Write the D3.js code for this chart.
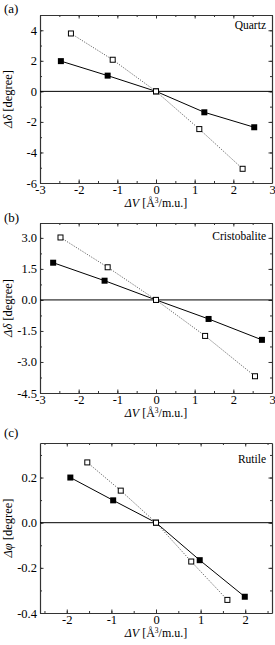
<!DOCTYPE html>
<html lang="en">
<head>
<meta charset="UTF-8">
<title>Volume dependence of tilt angles</title>
<script src="https://d3js.org/d3.v7.min.js"></script>
<style>
    body { margin: 0; background: #fff; }
    svg { display: block; font-family: "Liberation Serif", "DejaVu Serif", serif; }
    .axis path, .axis line { stroke: #333; }
    .axis text { font-size: 12.5px; fill: #000; font-family: "Liberation Serif", serif; }
    .solid { fill: none; stroke: #000; stroke-width: 1; }
    .dotted { fill: none; stroke: #555; stroke-width: 0.9; stroke-dasharray: 1.2,1.4; }
</style>
</head>
<body>
<svg width="275" height="645"></svg>
<script>
// ---- data ----
const panelLetters = ["(a)", "(b)", "(c)"];
const panelNames = ["Quartz", "Cristobalite", "Rutile"];

// quartz
const quartzFilledX = [-2.46, -1.25, 0, 1.25, 2.54];
const quartzFilledY = [1.98, 1.03, 0, -1.37, -2.35];
const quartzOpenX = [-2.2, -1.12, 0, 1.12, 2.24];
const quartzOpenY = [3.79, 2.07, 0, -2.47, -5.07];

// cristobalite
const cristFilledX = [-2.66, -1.33, 0, 1.36, 2.74];
const cristFilledY = [1.8, 0.93, 0, -0.92, -1.93];
const cristOpenX = [-2.47, -1.25, 0, 1.27, 2.56];
const cristOpenY = [3.02, 1.58, 0, -1.74, -3.69];

// rutile
const rutileFilledX = [-1.92, -0.96, 0, 0.98, 1.99];
const rutileFilledY = [0.2, 0.099, 0, -0.166, -0.328];
const rutileOpenX = [-1.54, -0.79, 0, 0.79, 1.6];
const rutileOpenY = [0.267, 0.142, 0, -0.172, -0.342];

// axis ticks
const xTicksAB = [-3, -2, -1, 0, 1, 2, 3];
const xTicksC = [-2, -1, 0, 1, 2];
const yTicksA = [-6, -4, -2, 0, 2, 4];
const yTicksB = [-4.5, -3.0, -1.5, 0.0, 1.5, 3.0];
const yTicksC = [-0.4, -0.2, 0.0, 0.2];

const zip = (xs, ys) => xs.map((x, i) => ({ x: x, y: ys[i] }));

const panels = [
    { top: 15, bottom: 183, xDom: [-3, 3], yDom: [-6, 5], xTicks: xTicksAB, xMinor: 0.5,
      yTicks: yTicksA, yMinor: 1, yFmt: d3.format("d"), yLabel: "δ",
      filled: zip(quartzFilledX, quartzFilledY), open: zip(quartzOpenX, quartzOpenY),
      letterY: 13, nameY: 29, titleY: 207 },
    { top: 223, bottom: 393, xDom: [-3, 3], yDom: [-4.5, 3.72], xTicks: xTicksAB, xMinor: 0.5,
      yTicks: yTicksB, yMinor: 0.75, yFmt: d3.format(".1f"), yLabel: "δ",
      filled: zip(cristFilledX, cristFilledY), open: zip(cristOpenX, cristOpenY),
      letterY: 222, nameY: 240, titleY: 417 },
    { top: 443, bottom: 613, xDom: [-2.6, 2.6], yDom: [-0.4, 0.353], xTicks: xTicksC, xMinor: 0.5,
      yTicks: yTicksC, yMinor: 0.1, yFmt: d3.format(".1f"), yLabel: "φ",
      filled: zip(rutileFilledX, rutileFilledY), open: zip(rutileOpenX, rutileOpenY),
      letterY: 437, nameY: 463, titleY: 637 }
];

const svg = d3.select("svg");
const left = 40, right = 272;
const fixMinus = s => s.replace("\u2212", "-");

panels.forEach((p, i) => {
    const g = svg.append("g");
    const x = d3.scaleLinear().domain(p.xDom).range([left, right]);
    const y = d3.scaleLinear().domain(p.yDom).range([p.bottom, p.top]);

    // minor tick values
    const xMin = d3.range(Math.ceil(p.xDom[0] / p.xMinor) * p.xMinor, p.xDom[1] + 1e-9, p.xMinor);
    const yMin = d3.range(Math.ceil(p.yDom[0] / p.yMinor - 1e-9) * p.yMinor, p.yDom[1] + 1e-9, p.yMinor);

    // minor ticks (all four sides)
    const minorAxes = [
        [d3.axisBottom(x), p.bottom, 0, xMin],
        [d3.axisTop(x), p.top, 0, xMin],
        [d3.axisLeft(y), 0, left, yMin],
        [d3.axisRight(y), 0, right, yMin]
    ];
    minorAxes.forEach(([ax, ty, tx, vals]) => {
        g.append("g").attr("class", "axis")
            .attr("transform", "translate(" + tx + "," + ty + ")")
            .call(ax.tickValues(vals).tickSize(-2).tickFormat(""))
            .call(a => a.select(".domain").remove());
    });

    // major ticks
    g.append("g").attr("class", "axis")
        .attr("transform", "translate(0," + p.bottom + ")")
        .call(d3.axisBottom(x).tickValues(p.xTicks).tickSizeInner(-3.5).tickSizeOuter(0).tickPadding(2)
            .tickFormat(d => fixMinus(d3.format("d")(d))));
    g.append("g").attr("class", "axis")
        .attr("transform", "translate(0," + p.top + ")")
        .call(d3.axisTop(x).tickValues(p.xTicks).tickSizeInner(-3.5).tickSizeOuter(0).tickFormat(""));
    g.append("g").attr("class", "axis")
        .attr("transform", "translate(" + left + ",0)")
        .call(d3.axisLeft(y).tickValues(p.yTicks).tickSizeInner(-3.5).tickSizeOuter(0).tickPadding(3)
            .tickFormat(d => fixMinus(p.yFmt(d))));
    g.append("g").attr("class", "axis")
        .attr("transform", "translate(" + right + ",0)")
        .call(d3.axisRight(y).tickValues(p.yTicks).tickSizeInner(-3.5).tickSizeOuter(0).tickFormat(""));

    g.selectAll(".axis .domain").attr("stroke", "#333").attr("stroke-width", 1.2);

    // zero line
    g.append("line")
        .attr("x1", left).attr("x2", right)
        .attr("y1", y(0)).attr("y2", y(0))
        .attr("stroke", "#000").attr("stroke-width", 1);

    const line = d3.line().x(d => x(d.x)).y(d => y(d.y));

    g.append("path").datum(p.open).attr("class", "dotted").attr("d", line);
    g.append("path").datum(p.filled).attr("class", "solid").attr("d", line);

    const s = 6;
    g.selectAll(".filled").data(p.filled).join("rect")
        .attr("x", d => x(d.x) - s / 2).attr("y", d => y(d.y) - s / 2)
        .attr("width", s).attr("height", s).attr("fill", "#000");
    g.selectAll(".open").data(p.open).join("rect")
        .attr("x", d => x(d.x) - s / 2 + 0.5).attr("y", d => y(d.y) - s / 2 + 0.5)
        .attr("width", s - 1).attr("height", s - 1)
        .attr("fill", "#fff").attr("stroke", "#000").attr("stroke-width", 1);

    // panel letter and name
    svg.append("text").attr("x", 4).attr("y", p.letterY)
        .style("font-size", "13px").text(panelLetters[i]);
    svg.append("text").attr("x", 266).attr("y", p.nameY)
        .attr("text-anchor", "end").style("font-size", "11.5px").text(panelNames[i]);

    // x title
    const xt = svg.append("text").attr("x", 156).attr("y", p.titleY)
        .attr("text-anchor", "middle").style("font-size", "12px");
    xt.append("tspan").style("font-style", "italic").text("ΔV");
    xt.append("tspan").text(" [Å");
    xt.append("tspan").attr("dy", -4).style("font-size", "7.5px").text("3");
    xt.append("tspan").attr("dy", 4).text("/m.u.]");

    // y title
    const yc = (p.top + p.bottom) / 2;
    const yt = svg.append("text")
        .attr("transform", "translate(12," + yc + ") rotate(-90)")
        .attr("text-anchor", "middle").style("font-size", "12.5px");
    yt.append("tspan").style("font-style", "italic").text("Δ" + p.yLabel);
    yt.append("tspan").text(" [degree]");
});
</script>
</body>
</html>
